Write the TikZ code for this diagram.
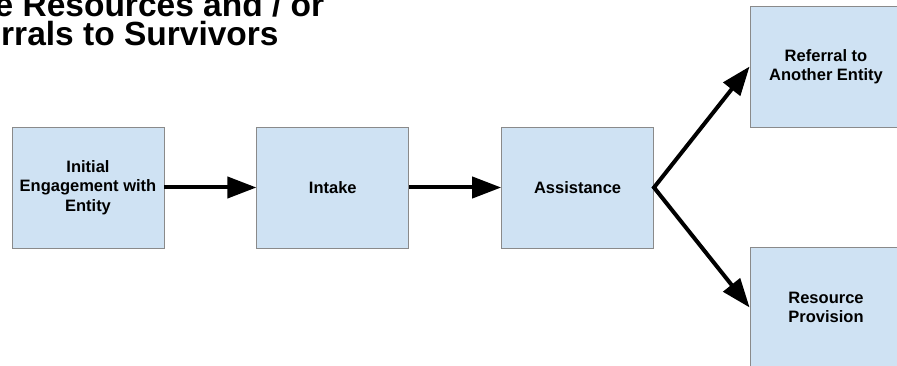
\documentclass[tikz,border=0pt]{standalone}
\usepackage{fontspec}
\setmainfont{Liberation Sans}
\usetikzlibrary{arrows.meta,positioning}

\definecolor{boxfill}{HTML}{CFE2F3}
\definecolor{boxline}{HTML}{8A8A8A}

\begin{document}
\begin{tikzpicture}
	[x=1pt,y=-1pt,
	stage/.style={draw=boxline,line width=0.8pt,fill=boxfill,minimum width=152pt,minimum height=121pt,inner sep=0pt,align=center,font=\fontsize{16.5}{19.5}\selectfont\bfseries},
	heading/.style={anchor=base west,inner sep=0pt,text depth=0pt,font=\fontsize{33.5}{33.5}\selectfont\bfseries},
	flow/.style={line width=4pt,-{Triangle[length=29pt,width=21pt]}}]
	
	\useasboundingbox (0,0) rectangle (897,366);
	\clip (0,0) rectangle (897,366);
	
	\node[heading] (t1) at (-5.5,16.5) {e Resources and / or};
	\node[heading] (t2) at (1,46) {rrals to Survivors};
	
	\node[stage] (init) at (88,187.5) {Initial\\Engagement with\\Entity};
	\node[stage,right=92pt of init] (intake) {Intake};
	\node[stage,right=92pt of intake] (assist) {Assistance};
	\node[stage] (refer) at (826,66.5) {Referral to\\Another Entity};
	\node[stage] (resource) at (826,307.5) {Resource\\Provision};
	
	\draw[flow] (init) -- (intake);
	\draw[flow] (intake) -- (assist);
	\draw[flow,{Triangle[length=29pt,width=21pt]}-{Triangle[length=29pt,width=21pt]},miter limit=20] (refer.west) -- (assist.east) -- (resource.west);
	\end{tikzpicture}
\end{document}
